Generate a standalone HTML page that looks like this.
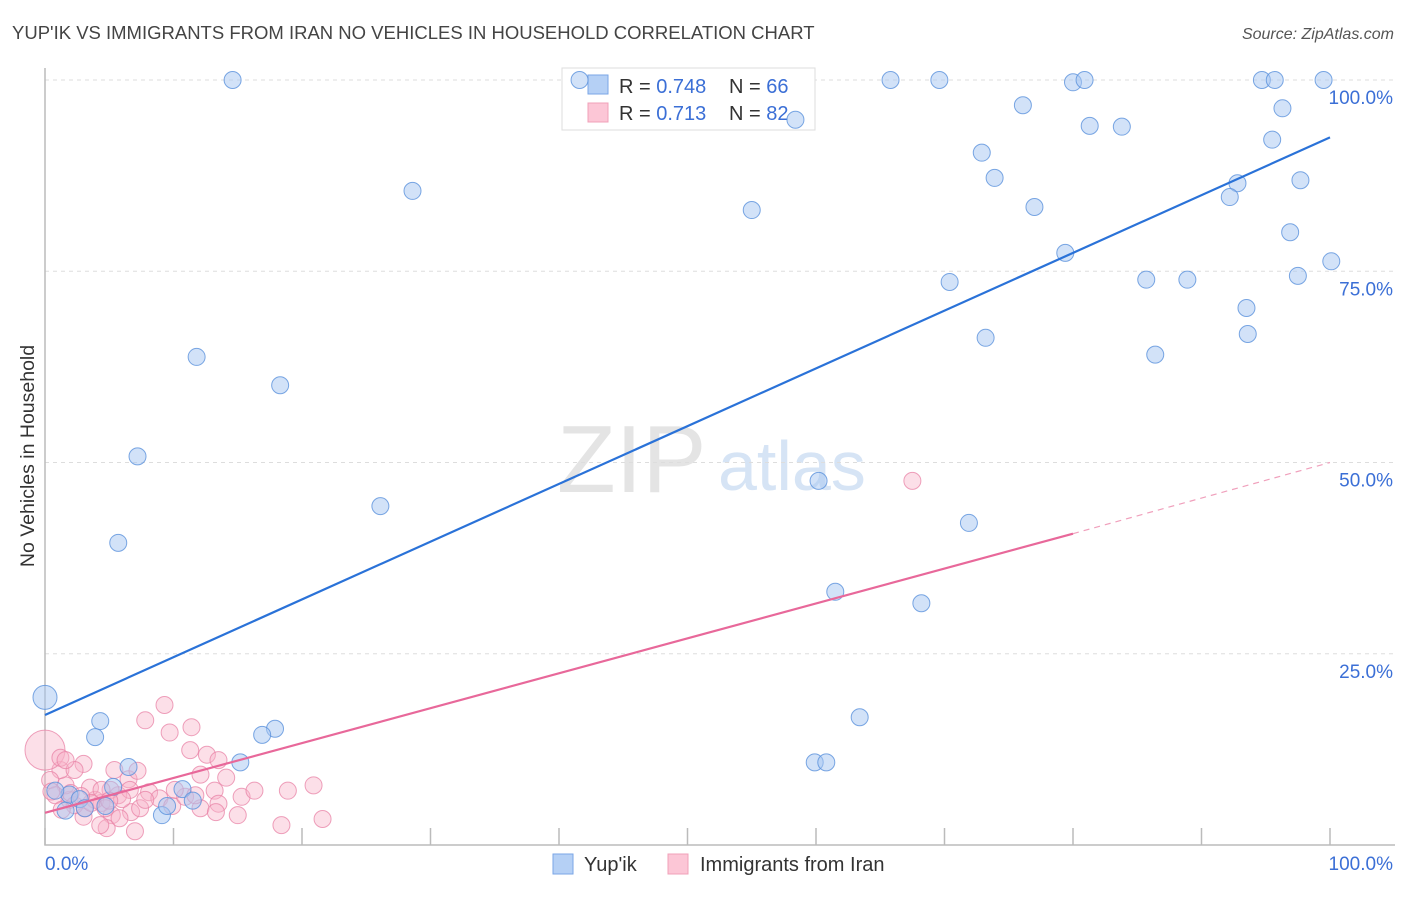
<!DOCTYPE html>
<html><head><meta charset="utf-8"><style>
body{margin:0;background:#fff;font-family:"Liberation Sans",sans-serif;}
svg text{font-family:"Liberation Sans",sans-serif;}
</style></head><body>
<svg id="chart" width="1406" height="892" xmlns="http://www.w3.org/2000/svg">
<text x="12" y="39" font-size="18.5" fill="#444">YUP'IK VS IMMIGRANTS FROM IRAN NO VEHICLES IN HOUSEHOLD CORRELATION CHART</text>
<text x="1394" y="39" font-size="16" fill="#555" font-style="italic" text-anchor="end">Source: ZipAtlas.com</text>
<text x="557" y="492" font-size="96" fill="#e4e4e4" font-family="Liberation Serif">ZIP</text>
<text x="718" y="490" font-size="70" fill="#d6e4f5">atlas</text>
<g id="grid"></g>
<g>
<rect x="562" y="68" width="253" height="62" fill="#fff" stroke="#ddd"/>
<rect x="588" y="75" width="20" height="19" fill="#b5d0f5" stroke="#7aa6e6"/>
<rect x="588" y="103" width="20" height="19" fill="#fcc6d6" stroke="#f0a0b8"/>
<text x="619" y="93" font-size="20" fill="#333">R = <tspan fill="#3b6fd6">0.748</tspan></text>
<text x="729" y="93" font-size="20" fill="#333">N = <tspan fill="#3b6fd6">66</tspan></text>
<text x="619" y="120" font-size="20" fill="#333">R = <tspan fill="#3b6fd6"> 0.713</tspan></text>
<text x="729" y="120" font-size="20" fill="#333">N = <tspan fill="#3b6fd6">82</tspan></text>
</g>
<g id="pts"></g>
<g id="lines"></g>
<text transform="translate(34,456) rotate(-90)" font-size="19.5" fill="#333" text-anchor="middle">No Vehicles in Household</text>
<text x="45" y="870" font-size="19" fill="#3b6fd6">0.0%</text>
<text x="1393" y="870" font-size="19" fill="#3b6fd6" text-anchor="end">100.0%</text>
<g>
<rect x="553" y="854" width="20" height="20" fill="#b5d0f5" stroke="#7aa6e6"/>
<text x="584" y="871" font-size="20" fill="#333">Yup'ik</text>
<rect x="668" y="854" width="20" height="20" fill="#fcc6d6" stroke="#f0a0b8"/>
<text x="700" y="871" font-size="20" fill="#333">Immigrants from Iran</text>
</g>
</svg>
<script>
const yTicks=[25,50,75,100];
const yTickLabels=["25.0%","50.0%","75.0%","100.0%"];
const blueX=[14.6,41.6,65.8,69.6,80.0,80.9,94.7,95.7,99.5,76.1,96.3,81.3,83.8,58.4,95.5,72.9,73.9,92.8,97.7,92.2,28.6,55.0,77.0,96.9,79.4,70.4,85.7,88.9,97.5,100.1,93.5,93.6,73.2,86.4,11.8,18.3,7.2,26.1,60.2,71.9,5.7,61.5,68.2,0,63.4,4.3,3.9,17.9,16.9,6.5,15.2,59.9,60.8,5.3,10.7,11.5,9.1,9.5,1.6,1.9,2.7,0.8,4.7,3.1];
const blueY=[100,100,100,100,99.7,100,100,100,100,96.7,96.3,94.0,93.9,94.8,92.2,90.5,87.2,86.5,86.9,84.7,85.5,83.0,83.4,80.1,77.4,73.6,73.9,73.9,74.4,76.3,70.2,66.8,66.3,64.1,63.8,60.1,50.8,44.3,47.6,42.1,39.5,33.1,31.6,19.3,16.7,16.2,14.1,15.2,14.4,10.2,10.8,10.8,10.8,7.6,7.3,5.8,3.9,5.1,4.5,6.6,6.0,7.1,5.1,4.8];
const pinkX=[9.3,7.8,11.4,9.7,3.0,6.5,8.1,7.2,5.7,3.0,12.1,13.2,13.5,15.0,15.3,16.3,18.9,18.4,21.6,20.9,13.3,5.2,6.7,4.8,7.0,4.4,1.9,1.6,1.2,0,0.4,2.3,3.9,5.1,7.4,8.9,9.9,3.5,0.8,4.3,4.7,1.3,5.8,3.1,10.9,11.7,12.6,11.3,13.5,14.1,12.1,6.6,7.8,10.1,67.5,2.3,1.2,5.4,1.6,4.4,2.0,3.6,6.0,0.5,2.8,5.0];
const pinkY=[18.3,16.3,15.4,14.7,10.6,8.6,6.9,9.7,6.5,3.7,4.8,7.1,5.4,3.9,6.3,7.1,7.1,2.6,3.4,7.8,4.3,3.9,4.3,2.2,1.8,5.5,5.9,7.8,9.8,12.4,8.5,5.2,5.9,7.2,4.8,6.1,5.1,7.5,6.5,2.6,4.8,4.6,3.5,4.8,6.3,6.5,11.8,12.4,11.1,8.8,9.2,7.2,5.9,7.2,47.6,9.8,11.4,9.8,11.1,7.2,6.8,5.5,6.0,7.0,6.4,5.8];
const blueLine=[[0,17.0],[100,92.5]];
const pinkLine=[[0,4.2],[80,40.7]];
const pinkDash=[[80,40.7],[100,50.0]];
const X=v=>45+v*12.85, Y=v=>845-v*7.65;
const NS="http://www.w3.org/2000/svg";
function mk(tag,attrs,parent){const e=document.createElementNS(NS,tag);for(const k in attrs)e.setAttribute(k,attrs[k]);parent.appendChild(e);return e;}
const grid=document.getElementById('grid');
yTicks.forEach((t,i)=>{
 const l=mk('line',{x1:45,x2:1395,y1:Y(t),y2:Y(t),stroke:'#ddd','stroke-dasharray':'4,4'},grid);
 
 
 const tx=mk('text',{x:1393,y:Y(t)+24,'font-size':19,fill:'#3b6fd6','text-anchor':'end'},grid);
 tx.textContent=yTickLabels[i];
 
 
});
const ax=mk('path',{d:'M45 68 V845 H1395',fill:'none',stroke:'#bbb','stroke-width':1.5},grid);


for(let i=0;i<=10;i++){
 const t=mk('line',{x1:X(i*10),x2:X(i*10),y1:845,y2:828,stroke:'#bbb','stroke-width':1.5},grid);
 
 
}
const pts=document.getElementById('pts');
pinkX.forEach((x,i)=>{
 const c=mk('circle',{cx:X(x),cy:Y(pinkY[i]),r:(x===0&&pinkY[i]>12)?20:8.5,fill:'rgba(248,178,200,0.42)',stroke:'rgba(232,130,165,0.75)','stroke-width':1},pts);
 
 
});
blueX.forEach((x,i)=>{
 const c=mk('circle',{cx:X(x),cy:Y(blueY[i]),r:(x===0&&blueY[i]>15)?12:8.5,fill:'rgba(165,198,242,0.5)',stroke:'rgba(90,145,220,0.8)','stroke-width':1},pts);
 
 
});
const lines=document.getElementById('lines');
const bl=mk('line',{x1:X(blueLine[0][0]),y1:Y(blueLine[0][1]),x2:X(blueLine[1][0]),y2:Y(blueLine[1][1]),stroke:'#2a72d8','stroke-width':2.2},lines);


const pl=mk('line',{x1:X(pinkLine[0][0]),y1:Y(pinkLine[0][1]),x2:X(pinkLine[1][0]),y2:Y(pinkLine[1][1]),stroke:'#e8689a','stroke-width':2.2},lines);


const pd=mk('line',{x1:X(pinkDash[0][0]),y1:Y(pinkDash[0][1]),x2:X(pinkDash[1][0]),y2:Y(pinkDash[1][1]),stroke:'#f0a0bc','stroke-width':1.2,'stroke-dasharray':'6,5'},lines);


</script>
</body></html>
